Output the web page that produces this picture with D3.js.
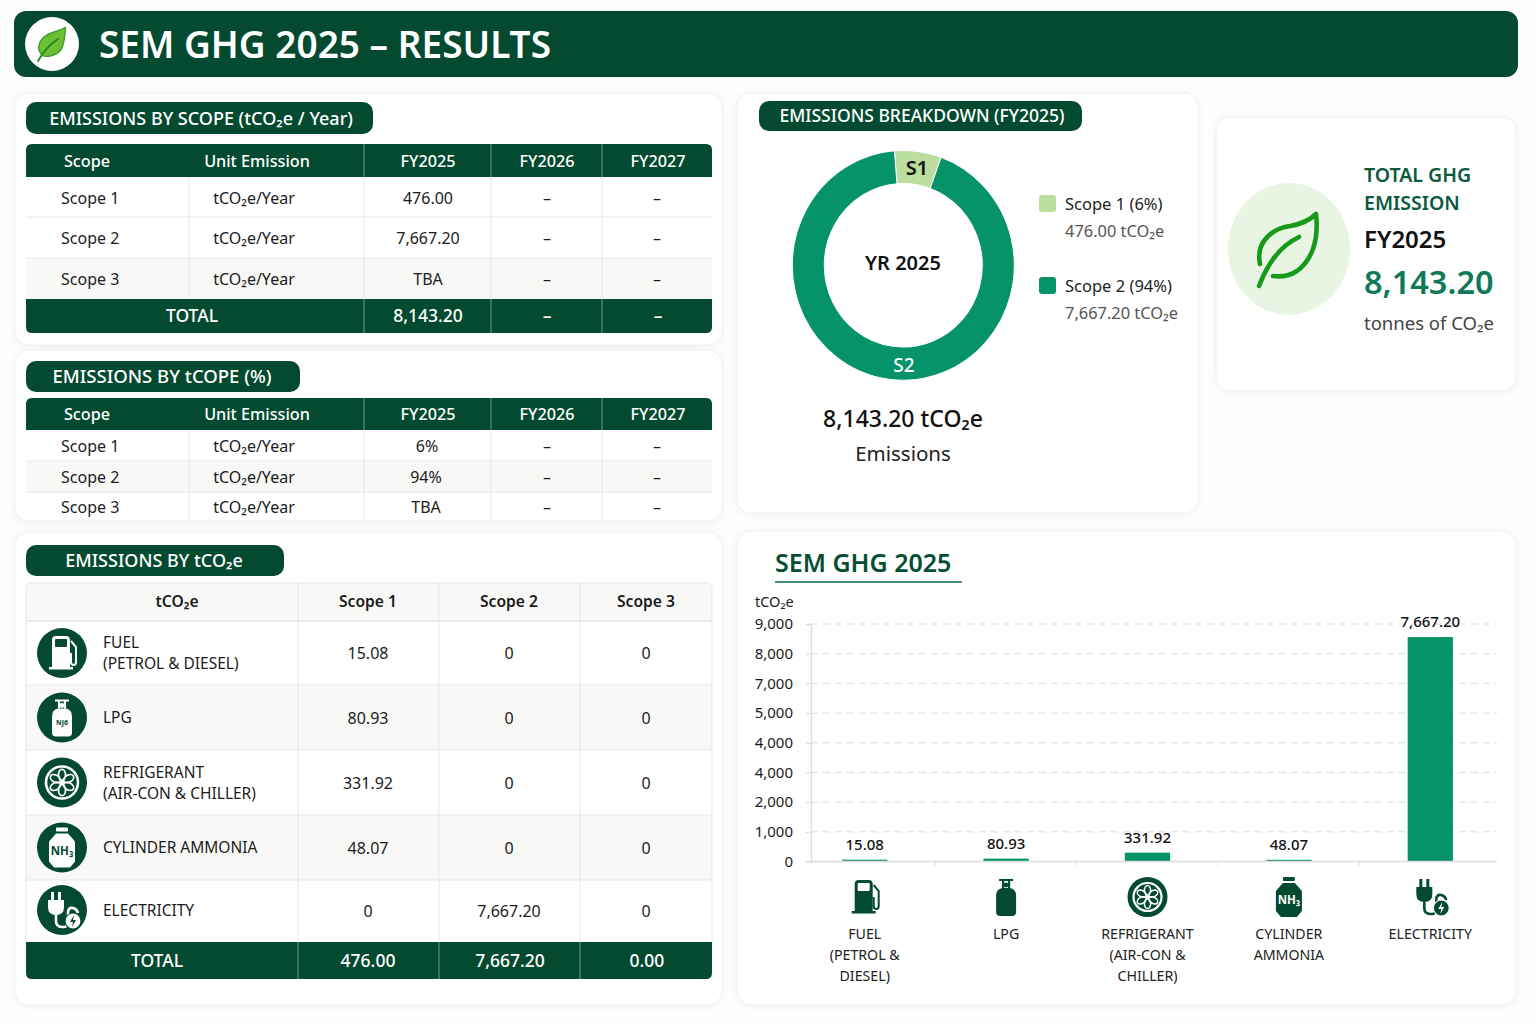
<!DOCTYPE html>
<html><head><meta charset="utf-8">
<script src="https://cdnjs.cloudflare.com/ajax/libs/d3/7.8.5/d3.min.js"></script>
<style>
html,body{margin:0;padding:0;background:#fdfdfc}
svg{display:block}
text{font-family:"Noto Sans",sans-serif}
.card{fill:#fff;stroke:#f1f1ef;stroke-width:1;filter:drop-shadow(0 1px 3px rgba(0,0,0,.05))}
</style></head><body>
<svg id="c" width="1536" height="1024" viewBox="0 0 1536 1024"></svg>
<script>
// ---- data ----
const pageTitle = "SEM GHG 2025 – RESULTS";
const scopeNames = ["Scope 1","Scope 2","Scope 3"];
const unitName = "tCO₂e/Year";
const yearHeaders = ["FY2025","FY2026","FY2027"];
const scopeFY2025 = ["476.00","7,667.20","TBA"];
const percentFY2025 = ["6%","94%","TBA"];
const scopeTotal = "8,143.20";
const sources = [["FUEL","(PETROL & DIESEL)"],["LPG"],["REFRIGERANT","(AIR-CON & CHILLER)"],["CYLINDER AMMONIA"],["ELECTRICITY"]];
const scope1Col = ["15.08","80.93","331.92","48.07","0"];
const scope2Col = ["0","0","0","0","7,667.20"];
const scope3Col = ["0","0","0","0","0"];
const sourceTotals = ["476.00","7,667.20","0.00"];
const donutNames = ["S1","S2"];
const donutDrawnShare = [6.8, 93.2];           // slice sizes
const chartCats = ["fuel","lpg","fridge","nh3","elec"];
const chartCatLines = [["FUEL","(PETROL &","DIESEL)"],["LPG"],["REFRIGERANT","(AIR-CON &","CHILLER)"],["CYLINDER","AMMONIA"],["ELECTRICITY"]];
const barLabels = ["15.08","80.93","331.92","48.07","7,667.20"];
const barDrawn = [70, 110, 335, 65, 8505];     // bar heights as read against the axis in the picture
const yTickLabels = ["0","1,000","2,000","4,000","4,000","5,000","7,000","8,000","9,000"];

// ---- palette ----
const DARK="#034a31", MID="#07936a", LIGHT="#bbdd9d", LINE="#e7e7e5", INK="#1c1c1c";
const svg=d3.select("#c");
function txt(g,x,y,s,o={}){
  return g.append("text").attr("x",x).attr("y",y).attr("dy",".35em")
    .attr("text-anchor",o.a||"middle").attr("font-size",o.s||16).attr("font-weight",o.w||400)
    .attr("fill",o.f||INK).text(s);
}
function rr(g,x0,y0,x1,y1,r,fill){return g.append("rect").attr("x",x0).attr("y",y0).attr("width",x1-x0).attr("height",y1-y0).attr("rx",r).attr("fill",fill);}
function topRound(x0,y0,x1,y1,r){return `M${x0},${y1}V${y0+r}Q${x0},${y0} ${x0+r},${y0}H${x1-r}Q${x1},${y0} ${x1},${y0+r}V${y1}Z`;}
function botRound(x0,y0,x1,y1,r){return `M${x0},${y0}H${x1}V${y1-r}Q${x1},${y1} ${x1-r},${y1}H${x0+r}Q${x0},${y1} ${x0},${y1-r}Z`;}
function card(x0,y0,x1,y1){svg.append("rect").attr("class","card").attr("x",x0).attr("y",y0).attr("width",x1-x0).attr("height",y1-y0).attr("rx",14);}
function pill(x0,y0,x1,y1,s,cx,size,yo){rr(svg,x0,y0,x1,y1,10,DARK);txt(svg,cx,(y0+y1)/2+(yo||0),s,{s:size||18,w:500,f:"#fff"});}

// ---- icons: centred on 0,0, drawn in fg with bg details ----
function iFuel(g,fg,bg){
  g.append("path").attr("fill",fg).attr("d","M-10,14V-13Q-10,-17 -6,-17H4Q8,-17 8,-13V14Z");
  g.append("rect").attr("x",-13).attr("y",14).attr("width",24).attr("height",2.5).attr("fill",fg);
  g.append("rect").attr("x",-7).attr("y",-14).attr("width",12).attr("height",8).attr("rx",1).attr("fill",bg);
  g.append("path").attr("fill","none").attr("stroke",fg).attr("stroke-width",2).attr("d","M9,-12L14,-6V9Q14,12 11.5,12Q9,12 9,9V0");
}
function bottle(g,fg,bg,lbl,size){
  g.append("path").attr("fill",fg).attr("d","M-10,-1Q-10,-8 -4,-9H4Q10,-8 10,-1V15Q10,19 6,19H-6Q-10,19 -10,15Z");
  g.append("path").attr("fill","none").attr("stroke",fg).attr("stroke-width",2.2).attr("d","M-7,-17H7M-3,-16V-9M3,-16V-9");
  g.append("circle").attr("cy",-12).attr("r",2.4).attr("fill",fg);
  if(lbl) txt(g,0,5,lbl,{s:size||7,w:700,f:bg});
}
function iFan(g,fg,r){
  g.append("circle").attr("r",r).attr("fill","none").attr("stroke",fg).attr("stroke-width",r*0.16);
  d3.range(6).forEach(i=>{
    g.append("ellipse").attr("cx",0).attr("cy",-r*0.48).attr("rx",r*0.22).attr("ry",r*0.34)
     .attr("transform",`rotate(${i*60})`).attr("fill","none").attr("stroke",fg).attr("stroke-width",r*0.11);
  });
  g.append("circle").attr("r",r*0.12).attr("fill",fg);
}
function iCyl(g,fg,bg,lbl){
  g.append("path").attr("fill",fg).attr("d","M-13,-6L-6,-14H6L13,-6V14L8,20H-8L-13,14Z");
  g.append("rect").attr("x",-6).attr("y",-20).attr("width",12).attr("height",4).attr("rx",1).attr("fill",fg);
  txt(g,0,3,lbl,{s:11.5,w:700,f:bg});
}
function iPlug(g,fg,bg){
  g.append("path").attr("fill",fg).attr("d","M-14,-10H2V-3Q2,5 -6,5Q-14,5 -14,-3Z");
  g.append("path").attr("stroke",fg).attr("stroke-width",3).attr("d","M-9.5,-10V-18M-2.5,-10V-18");
  g.append("path").attr("fill","none").attr("stroke",fg).attr("stroke-width",2.6).attr("d","M-6,5V11Q-6,17 0,17H2Q6,17 6,11V3Q6,-3 11,-2Q15,-1 16,3");
  g.append("circle").attr("cx",11).attr("cy",11).attr("r",8).attr("fill",fg).attr("stroke",bg).attr("stroke-width",1.2);
  g.append("path").attr("fill",bg).attr("d","M12,5L8,12H11L10,17L14,10H11Z");
}
function drawIcon(kind,g,fg,bg,inChart){
  if(kind==="fuel")iFuel(g,fg,bg);
  if(kind==="lpg")bottle(g,fg,bg,inChart?"":"NJ6");
  if(kind==="fridge"){ if(inChart){g.append("circle").attr("r",20).attr("fill",DARK);iFan(g,"#fff",14);} else iFan(g,fg,16); }
  if(kind==="nh3")iCyl(g,fg,bg,"NH₃");
  if(kind==="elec")iPlug(g,fg,bg);
}

// ---- header ----
rr(svg,14,11,1518,77,12,DARK);
svg.append("circle").attr("cx",52).attr("cy",44).attr("r",27).attr("fill","#fff");
const hl=svg.append("g");
hl.append("path").attr("fill","#6cbf32").attr("stroke","#2e9a1e").attr("stroke-width",1.2)
  .attr("d","M65.5,27.5C55,33 44,33 40,42C37,49 40,54 43,56C52,58 61,53 63,45C65,39 65,33 65.5,27.5Z");
hl.append("path").attr("fill","none").attr("stroke","#1f8a1b").attr("stroke-width",1.8).attr("stroke-linecap","round")
  .attr("d","M38,61C43,52 49,45 58,39");
txt(svg,99,45,pageTitle,{a:"start",s:37,w:600,f:"#fff"});

// ---- cards ----
card(15,93,722,345);card(15,350,722,521);card(15,532,722,1005);
card(737,93,1198,513);card(1216,117,1516,391);card(737,531,1516,1005);

// ---- scope tables ----
const tHeadX=[87,257,428,547,658], rowX=[61,254,428,547,657], tX0=26,tX1=712;
function scopeTable(hy0,hy1,rows,vals,valX,shadedRow,headOff){
  svg.append("path").attr("d",topRound(tX0,hy0,tX1,hy1,6)).attr("fill",DARK);
  ["Scope","Unit Emission",...yearHeaders].forEach((s,i)=>txt(svg,tHeadX[i],(hy0+hy1)/2+headOff,s,{s:16.2,w:500,f:"#fff"}));
  [364,491,602].forEach(x=>svg.append("line").attr("x1",x).attr("x2",x).attr("y1",hy0).attr("y2",hy1).attr("stroke","#fff").attr("stroke-opacity",.45));
  const yEnd=rows[rows.length-1];
  rows.slice(0,-1).forEach((y,i)=>{
    if(i===shadedRow) svg.append("rect").attr("x",tX0).attr("y",y).attr("width",tX1-tX0).attr("height",rows[i+1]-y).attr("fill","#f8f8f6");
    const cy=(y+rows[i+1])/2+1;
    txt(svg,rowX[0],cy,scopeNames[i],{a:"start",s:16});
    txt(svg,rowX[1],cy,unitName,{s:16});
    txt(svg,valX[i],cy,vals[i],{s:16});
    txt(svg,rowX[3],cy,"–",{s:16});txt(svg,rowX[4],cy,"–",{s:16});
    if(i>0)svg.append("line").attr("x1",tX0).attr("x2",tX1).attr("y1",y).attr("y2",y).attr("stroke",LINE);
  });
  [189,364,491,602].forEach(x=>svg.append("line").attr("x1",x).attr("x2",x).attr("y1",hy1).attr("y2",yEnd).attr("stroke",LINE));
}
scopeTable(144,177,[177,217,258,299],scopeFY2025,[428,428,428],2,1);
svg.append("path").attr("d",botRound(tX0,299,tX1,333,6)).attr("fill",DARK);
[[192,"TOTAL"],[428,scopeTotal],[547,"–"],[658,"–"]].forEach(([x,s])=>txt(svg,x,316,s,{s:17.5,w:500,f:"#fff"}));
[364,491,602].forEach(x=>svg.append("line").attr("x1",x).attr("x2",x).attr("y1",299).attr("y2",333).attr("stroke","#fff").attr("stroke-opacity",.45));
scopeTable(398,430,[430,461,492,521],percentFY2025,[427,426,426],1,0);
pill(26,102,373,134,"EMISSIONS BY SCOPE (tCO₂e / Year)",201,18,1);
pill(26,361,300,392,"EMISSIONS BY tCOPE (%)",162,18.5,0);
pill(26,545,284,576,"EMISSIONS BY tCO₂e",154,18,0);

// ---- source table ----
const srcRows=[621,685,750,815,880,942];
svg.append("path").attr("d",topRound(tX0,583,tX1,621,6)).attr("fill","#f8f8f6").attr("stroke",LINE);
[[177,"tCO₂e"],[368,"Scope 1"],[509,"Scope 2"],[646,"Scope 3"]].forEach(([x,s])=>txt(svg,x,602,s,{s:15.6,w:600}));
sources.forEach((lines,i)=>{
  const y0=srcRows[i],y1=srcRows[i+1],cy=(y0+y1)/2+(i==4?0:0.5);
  if(i%2==1)svg.append("rect").attr("x",tX0).attr("y",y0).attr("width",tX1-tX0).attr("height",y1-y0).attr("fill","#f8f8f6");
  svg.append("line").attr("x1",tX0).attr("x2",tX1).attr("y1",y0).attr("y2",y0).attr("stroke",LINE);
  const ic=svg.append("g").attr("transform",`translate(62,${cy-(i==4?1:0.5)})`);
  ic.append("circle").attr("r",25).attr("fill",DARK);
  drawIcon(chartCats[i],ic,"#fff",DARK,false);
  lines.forEach((s,k)=>txt(svg,103,cy+(k-(lines.length-1)/2)*21,s,{a:"start",s:15.5}));
  txt(svg,368,cy,scope1Col[i],{s:16});txt(svg,509,cy,scope2Col[i],{s:16});txt(svg,646,cy,scope3Col[i],{s:16});
});
[298,439,580].forEach(x=>svg.append("line").attr("x1",x).attr("x2",x).attr("y1",583).attr("y2",942).attr("stroke",LINE));
[[tX0],[tX1]].forEach(([x])=>svg.append("line").attr("x1",x).attr("x2",x).attr("y1",621).attr("y2",942).attr("stroke",LINE));
svg.append("path").attr("d",botRound(tX0,942,tX1,979,6)).attr("fill",DARK);
[[157,"TOTAL"],[368,sourceTotals[0]],[510,sourceTotals[1]],[647,sourceTotals[2]]].forEach(([x,s])=>txt(svg,x,961,s,{s:17.5,w:500,f:"#fff"}));
[298,439,580].forEach(x=>svg.append("line").attr("x1",x).attr("x2",x).attr("y1",942).attr("y2",979).attr("stroke","#fff").attr("stroke-opacity",.45));

// ---- donut ----
pill(759,101,1082,131,"EMISSIONS BREAKDOWN (FY2025)",922,17.5,0);
const pie=d3.pie().sort(null).startAngle(-0.08).endAngle(2*Math.PI-0.08);
const arc=d3.arc().innerRadius(79).outerRadius(111);
const dg=svg.append("g").attr("transform","translate(903.3,265.3) scale(1,1.035)");
const dcol=d3.scaleOrdinal(donutNames,[LIGHT,MID]);
dg.selectAll("path").data(pie(donutDrawnShare)).join("path").attr("d",arc)
  .attr("fill",(d,i)=>dcol(donutNames[i])).attr("stroke","#fff").attr("stroke-width",1);
txt(svg,917,168,donutNames[0],{s:20,w:600,f:"#111"});
txt(svg,904,365,donutNames[1],{s:19,w:500,f:"#fff"});
txt(svg,903,263,"YR 2025",{s:20,w:600,f:"#111"});
txt(svg,903,419,"8,143.20 tCO₂e",{s:23,w:500,f:"#111"});
txt(svg,903,454,"Emissions",{s:20.5,f:"#222"});
[[195,"Scope 1 (6%)","476.00 tCO₂e",0],[277,"Scope 2 (94%)","7,667.20 tCO₂e",1]].forEach(([y,a,b,i])=>{
  rr(svg,1039,y,1056,y+17,3,dcol(donutNames[i]));
  txt(svg,1065,y+9,a,{a:"start",s:16.5,f:"#222"});
  txt(svg,1065,y+36,b,{a:"start",s:16.4,f:"#555"});
});

// ---- KPI ----
svg.append("ellipse").attr("cx",1289).attr("cy",249).attr("rx",61).attr("ry",66).attr("fill","#e9f5e3");
const lf=svg.append("g").attr("fill","none").attr("stroke","#179a1c").attr("stroke-width",4.6).attr("stroke-linecap","round").attr("stroke-linejoin","round");
lf.append("path").attr("d","M1260,264C1255,240 1275,228 1290,226C1302,224 1310,220 1316,214C1319,240 1312,260 1297,271C1288,277 1280,277 1273,276");
lf.append("path").attr("d","M1259,286C1268,262 1280,246 1299,237");
txt(svg,1364,175,"TOTAL GHG",{a:"start",s:19.5,w:600,f:"#0b5a3c"});
txt(svg,1364,203,"EMISSION",{a:"start",s:19.5,w:600,f:"#0b5a3c"});
txt(svg,1364,240,"FY2025",{a:"start",s:24,w:600,f:"#111"});
txt(svg,1364,283,"8,143.20",{a:"start",s:32.5,w:600,f:"#0f7a58"});
txt(svg,1364,324,"tonnes of CO₂e",{a:"start",s:18.5,f:"#444"});

// ---- bar chart ----
txt(svg,775,563,"SEM GHG 2025",{a:"start",s:25,w:600,f:"#064e34"});
svg.append("line").attr("x1",775).attr("x2",962).attr("y1",582).attr("y2",582).attr("stroke","#0b6a49").attr("stroke-width",1.5);
txt(svg,755,602,"tCO₂e",{a:"start",s:14.5});
const plot={l:811,r:1497,t:624,b:861.5};
const y=d3.scaleLinear().domain([0,9000]).range([plot.b,plot.t]);
const yIdx=d3.scalePoint().domain(d3.range(yTickLabels.length)).range([plot.b,plot.t]);
const x=d3.scaleBand().domain(chartCats).range([794,1501]).paddingInner(0.68).paddingOuter(0.34);
const yAxis=svg.append("g").attr("transform",`translate(${plot.l},0)`)
  .call(d3.axisLeft(yIdx).tickFormat(i=>yTickLabels[i]).tickSize(5).tickPadding(13));
yAxis.select(".domain").attr("stroke","#dedede").attr("stroke-width",1.5);
yAxis.selectAll("line").attr("stroke","#d9d9d9");
yAxis.selectAll("text").attr("font-size",15).attr("fill",INK).style("font-family",'"Noto Sans",sans-serif');
svg.append("g").selectAll("line").data(d3.range(1,yTickLabels.length)).join("line")
  .attr("x1",plot.l).attr("x2",plot.r).attr("y1",yIdx).attr("y2",yIdx)
  .attr("stroke","#dcdcdc").attr("stroke-dasharray","7 5");
svg.selectAll(".bar").data(chartCats).join("rect").attr("class","bar")
  .attr("x",d=>x(d)).attr("width",x.bandwidth())
  .attr("y",(d,i)=>y(barDrawn[i])).attr("height",(d,i)=>y(0)-y(barDrawn[i])).attr("fill",MID);
chartCats.forEach((c,i)=>{
  const cx=x(c)+x.bandwidth()/2;
  txt(svg,cx,y(barDrawn[i])-15,barLabels[i],{s:15,w:500,f:"#111"});
  const ic=svg.append("g").attr("transform",`translate(${cx},897)`);
  drawIcon(c,ic,DARK,"#fff",true);
  chartCatLines[i].forEach((s,k)=>txt(svg,cx,934+k*21,s,{s:14.2,f:"#222"}));
});
svg.append("line").attr("x1",plot.l).attr("x2",plot.r).attr("y1",plot.b).attr("y2",plot.b).attr("stroke","#dcdcdc").attr("stroke-width",1.5);
chartCats.slice(1).forEach(c=>{
  const bx=x(c)-x.step()*x.paddingInner()/2;
  svg.append("line").attr("x1",bx).attr("x2",bx).attr("y1",plot.b).attr("y2",plot.b+4).attr("stroke","#dcdcdc");
});
</script></body></html>
